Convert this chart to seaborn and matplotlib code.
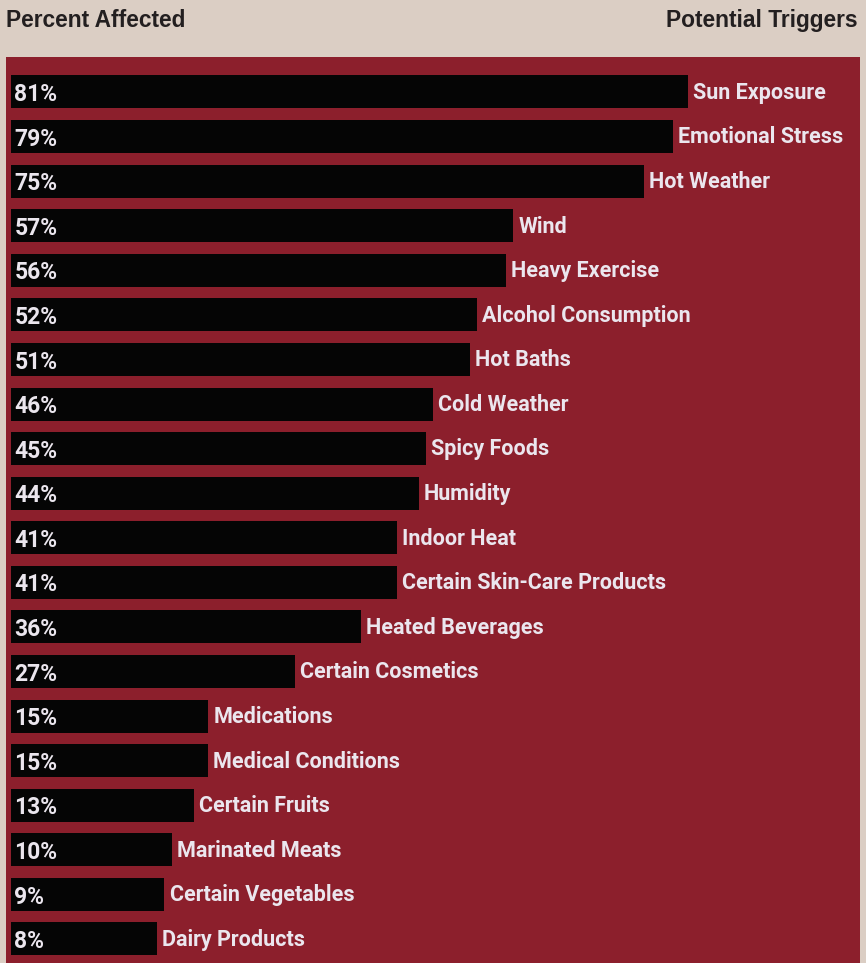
import matplotlib
matplotlib.use("Agg")
import matplotlib.pyplot as plt
import seaborn as sns
import pandas as pd

triggers = ["Sun Exposure", "Emotional Stress", "Hot Weather", "Wind", "Heavy Exercise",
            "Alcohol Consumption", "Hot Baths", "Cold Weather", "Spicy Foods", "Humidity",
            "Indoor Heat", "Certain Skin-Care Products", "Heated Beverages", "Certain Cosmetics",
            "Medications", "Medical Conditions", "Certain Fruits", "Marinated Meats",
            "Certain Vegetables", "Dairy Products"]
percent = [81, 79, 75, 57, 56, 52, 51, 46, 45, 44, 41, 41, 36, 27, 15, 15, 13, 10, 9, 8]
header_left = "Percent Affected"
header_right = "Potential Triggers"

df = pd.DataFrame({"trigger": triggers, "percent": percent})

BG = "#dbcec4"
PANEL = "#8c1f2c"
BAR = "#050505"
TXT = "#ebe6ee"
LABEL_PAD = 12.1  # width of black label box left of zero, in data units

sns.set_theme(style="white")
lab_font = ["Roboto", "DejaVu Sans"]

fig = plt.figure(figsize=(8.66, 9.63), dpi=100, facecolor=BG)
ax = fig.add_axes([6/866, 0, 854/866, 1 - 57/963])
ax.set_facecolor(PANEL)

sns.barplot(data=df, x="percent", y="trigger", orient="h", color=BAR,
            width=0.74, saturation=1, ax=ax, linewidth=0)
ax.barh(range(len(df)), [LABEL_PAD] * len(df), left=-LABEL_PAD, height=0.74,
        color=BAR, linewidth=0)

for i, (t, v) in enumerate(zip(df["trigger"], df["percent"])):
    ax.text(-LABEL_PAD + 0.45, i + 0.06, f"{v}%", color=TXT, fontsize=16.5,
            fontweight="bold", va="center", ha="left", family=lab_font)
    ax.text(v + 0.7, i + 0.02, t, color=TXT, fontsize=15.5,
            fontweight="bold", va="center", ha="left", family=lab_font)

ax.set_xlim(-12.8, 104.7)
ax.set_ylim(19.54, -0.785)
ax.set_xlabel("")
ax.set_ylabel("")
ax.set_xticks([])
ax.set_yticks([])
for s in ax.spines.values():
    s.set_visible(False)

hdr_font = ["Liberation Sans", "DejaVu Sans"]
fig.text(6/866, 1 - 27/963, header_left, ha="left", va="baseline", fontsize=16.4,
         fontweight="bold", color="#231f20", family=hdr_font)
fig.text(858/866, 1 - 27/963, header_right, ha="right", va="baseline", fontsize=16.4,
         fontweight="bold", color="#231f20", family=hdr_font)

fig.savefig("out.png", dpi=100, facecolor=BG)
